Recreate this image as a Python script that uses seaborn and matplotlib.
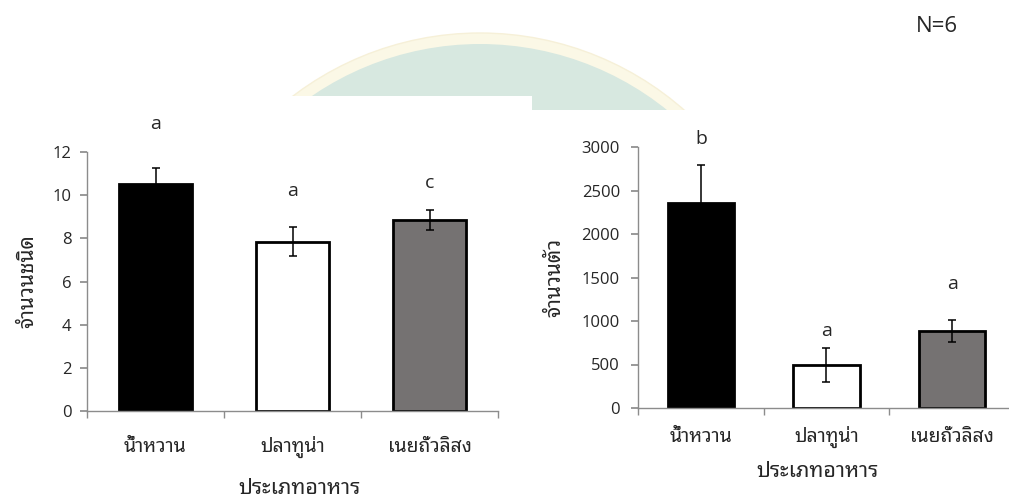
import matplotlib
matplotlib.use("Agg")
import matplotlib.pyplot as plt
import seaborn as sns
import pandas as pd
import numpy as np
from matplotlib import font_manager
from matplotlib.ft2font import FT2Font
from matplotlib.patches import Circle, Rectangle

categories = ["น้ำหวาน", "ปลาทูน่า", "เนยถั่วลิสง"]
species_mean = [10.5, 7.85, 8.85]
species_err = [0.77, 0.69, 0.47]
species_letters = ["a", "a", "c"]
count_mean = [2355, 495, 885]
count_err = [440, 195, 125]
count_letters = ["b", "a", "a"]
bar_colors = ["#000000", "#ffffff", "#767171"]

# find a font with Thai glyphs, preferring looped styles
thai_fonts = []
for f in font_manager.fontManager.ttflist:
    try:
        cm = FT2Font(f.fname).get_charmap()
        if 0x0E01 in cm and 0x0E49 in cm:
            thai_fonts.append(f.name)
    except Exception:
        pass
thai_fonts = sorted(set(thai_fonts))
pref = ["Noto Sans Thai Looped", "Loma", "Garuda", "Tahoma", "Leelawadee UI",
        "Leelawadee", "Norasi", "Kinnari", "Sawasdee", "Tlwg Typo"]
chosen = [p for p in pref if p in thai_fonts] + thai_fonts
thai = chosen[:1]

sns.set_theme(style="white")
plt.rcParams["font.family"] = ["Open Sans"] + thai + ["DejaVu Sans"]

fig = plt.figure(figsize=(10.09, 4.97), dpi=100)
W, H = 1009, 497

# faint watermark behind the charts (inches-based so it stays circular)
wm_outer = Circle((480 / 100, (H - 342) / 100), 309 / 100,
                  transform=fig.dpi_scale_trans, facecolor="#fbf8e6",
                  edgecolor="#f6f0d8", lw=1, zorder=-3)
wm_inner = Circle((480 / 100, (H - 342) / 100), 298 / 100,
                  transform=fig.dpi_scale_trans, facecolor="#d7e8e0",
                  edgecolor="none", zorder=-3)
mask1 = Rectangle((0, 0), 532 / W, 1 - 96 / H, transform=fig.transFigure,
                  facecolor="white", edgecolor="none", zorder=-2)
mask2 = Rectangle((532 / W, 0), 1 - 532 / W, 1 - 110 / H,
                  transform=fig.transFigure, facecolor="white",
                  edgecolor="none", zorder=-2)
for p in (wm_outer, wm_inner, mask1, mask2):
    fig.patches.append(p)

def add_ax(x0, y0, x1, y1):
    return fig.add_axes([x0 / W, 1 - y1 / H, (x1 - x0) / W, (y1 - y0) / H])

ax1 = add_ax(87, 152, 498, 411)
ax2 = add_ax(638, 147, 1015, 408)

TXT = "#262626"

def draw(ax, mean, err, letters, ymax, step, ylabel, letter_y,
         ypad, xpad, xl_xy, yl_x):
    df = pd.DataFrame({"cat": categories, "val": mean})
    sns.barplot(data=df, x="cat", y="val", hue="cat", palette=bar_colors,
                edgecolor="black", linewidth=2, width=0.53, legend=False,
                errorbar=None, ax=ax)
    ax.errorbar(range(3), mean, yerr=err, fmt="none", ecolor="black",
                elinewidth=1.1, capsize=3, capthick=1.1)
    ax.set_ylim(0, ymax)
    ax.set_xlim(-0.5, 2.5)
    ax.set_yticks(np.arange(0, ymax + 1e-9, step))
    for s in ["top", "right"]:
        ax.spines[s].set_visible(False)
    for s in ["left", "bottom"]:
        ax.spines[s].set_color("#8c8c8c")
        ax.spines[s].set_linewidth(1)
    ax.tick_params(axis="y", left=True, length=5, color="#8c8c8c",
                   labelsize=12, labelcolor=TXT, pad=ypad)
    ax.set_xticks([-0.5, 0.5, 1.5, 2.5], minor=True)
    ax.set_xticks(range(3))
    ax.set_xticklabels(categories, fontsize=14, color=TXT)
    for t in ax.get_xticklabels():
        t.set_verticalalignment("baseline")
    ax.tick_params(axis="x", which="major", length=0, pad=xpad)
    ax.tick_params(axis="x", which="minor", bottom=True, length=5,
                   color="#8c8c8c")
    ax.set_ylabel(ylabel, fontsize=15, color=TXT)
    ax.yaxis.label.set_verticalalignment("center")
    ax.yaxis.set_label_coords(yl_x, 0.5)
    ax.set_xlabel("ประเภทอาหาร", fontsize=15.5, color=TXT)
    ax.xaxis.label.set_verticalalignment("baseline")
    ax.xaxis.set_label_coords(*xl_xy)
    for i, (l, y) in enumerate(zip(letters, letter_y)):
        ax.text(i, y, l, ha="center", va="center", fontsize=14,
                color=TXT, clip_on=False)
    ax.patch.set_alpha(0)

draw(ax1, species_mean, species_err, species_letters, 12, 2, "จำนวนชนิด",
     [13.3, 10.2, 10.55], 6, 29.5, (0.518, -(494 - 411) / 259), -0.145)
draw(ax2, count_mean, count_err, count_letters, 3000, 500, "จำนวนตัว",
     [3090, 887, 1430], 8, 24.5, (0.477, -(477 - 408) / 261), -0.22)

fig.text(937 / W, 1 - 26 / H, "N=6", ha="center", va="center", fontsize=16,
         color=TXT)

fig.savefig("out.png", dpi=100)
